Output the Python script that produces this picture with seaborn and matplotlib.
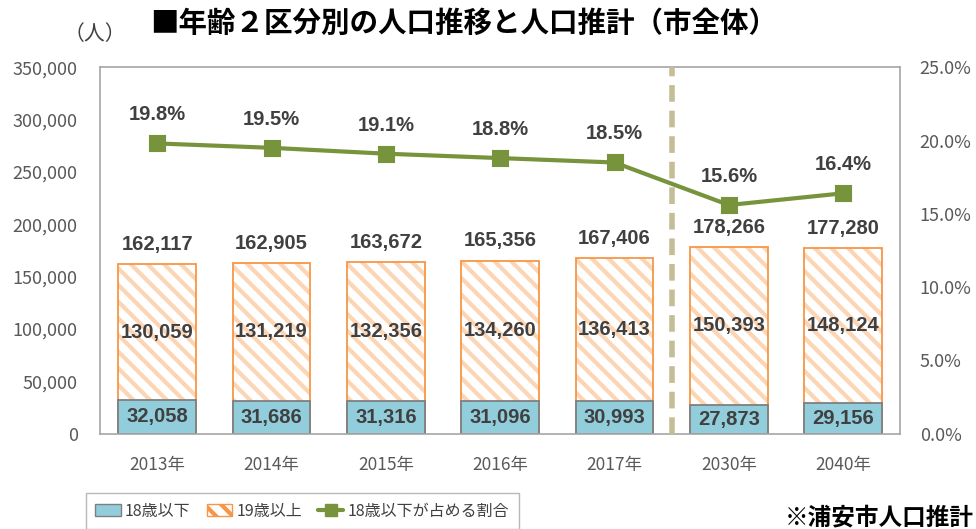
import matplotlib
matplotlib.use("Agg")
import matplotlib.pyplot as plt
import seaborn as sns
from matplotlib.patches import Patch
from matplotlib.lines import Line2D

years = ["2013年", "2014年", "2015年", "2016年", "2017年", "2030年", "2040年"]
under18 = [32058, 31686, 31316, 31096, 30993, 27873, 29156]
over19 = [130059, 131219, 132356, 134260, 136413, 150393, 148124]
total = [162117, 162905, 163672, 165356, 167406, 178266, 177280]
ratio = [19.8, 19.5, 19.1, 18.8, 18.5, 15.6, 16.4]

sns.set_style("white")
plt.rcParams["font.family"] = ["Noto Sans CJK JP", "DejaVu Sans"]
plt.rcParams["hatch.linewidth"] = 3.0

BLUE = "#92cddc"
ORANGE = "#f79646"
ORANGE_L = "#fcd5b4"
GREEN = "#77933c"
TXT = "#404040"
NUM = ["Liberation Sans", "DejaVu Sans"]

fig = plt.figure(figsize=(9.76, 5.29), dpi=100)
ax = fig.add_axes([0.1025, 0.18, 0.82, 0.693])

# hatched total bars (19歳以上 on top of 18歳以下)
sns.barplot(x=years, y=total, ax=ax, color="white", width=0.68,
            edgecolor=ORANGE_L, linewidth=0, hatch="\\\\", saturation=1)
sns.barplot(x=years, y=total, ax=ax, fill=False, width=0.68,
            edgecolor=ORANGE, linewidth=1.3)
sns.barplot(x=years, y=under18, ax=ax, color=BLUE, width=0.68,
            edgecolor="#7f7f7f", linewidth=1.3, saturation=1)

ax.set_ylim(0, 350000)
ax.set_yticks(range(0, 350001, 50000))
ax.set_yticklabels([f"{v:,}" for v in range(0, 350001, 50000)])
ax.set_xlim(-0.5, len(years) - 0.5)
for s in ax.spines.values():
    s.set_color("#a6a6a6")
    s.set_linewidth(1.2)
ax.tick_params(axis="y", labelsize=13, colors="#595959", length=0, pad=16)
ax.tick_params(axis="x", labelsize=12.5, colors="#595959", length=0, pad=16)

for i in range(len(years)):
    ax.text(i, under18[i] / 2, f"{under18[i]:,}", ha="center", va="center",
            fontsize=14.5, fontweight="bold", color=TXT, family=NUM)
    ax.text(i, under18[i] + over19[i] / 2, f"{over19[i]:,}", ha="center",
            va="center", fontsize=14.5, fontweight="bold", color=TXT, family=NUM)
    ax.text(i, total[i] + 10000, f"{total[i]:,}", ha="center",
            va="bottom", fontsize=14.5, fontweight="bold", color=TXT, family=NUM)

# dashed separator between actual and projected
ax.axvline(4.5, color="#c4bd97", linestyle=(0, (3, 1.6)), linewidth=4, zorder=5)

ax2 = ax.twinx()
sns.pointplot(x=years, y=ratio, ax=ax2, color=GREEN, marker="s",
              markersize=10, linewidth=3)
ax2.set_ylim(0, 25)
ax2.set_yticks(range(0, 26, 5))
ax2.set_yticklabels([f"{v:.1f}%" for v in range(0, 26, 5)])
ax2.tick_params(axis="y", labelsize=13, colors="#595959", length=0, pad=14)
for s in ax2.spines.values():
    s.set_visible(False)
ax2.set_xlim(-0.5, len(years) - 0.5)
for i, r in enumerate(ratio):
    ax2.text(i, r + 1.3, f"{r}%", ha="center", va="bottom",
             fontsize=14.5, fontweight="bold", color=TXT, family=NUM)

fig.text(0.097, 0.935, "（人）", fontsize=15, color=TXT, ha="center", va="center")
fig.text(0.475, 0.955, "■年齢２区分別の人口推移と人口推計（市全体）",
         fontsize=20.5, fontweight="bold", color="black", ha="center", va="center")

handles = [
    Patch(facecolor=BLUE, edgecolor="#7f7f7f", label="18歳以下"),
    Patch(facecolor="white", edgecolor=ORANGE, hatch="\\\\", label="19歳以上"),
    Line2D([0], [0], color=GREEN, linewidth=3, marker="s", markersize=8,
           label="18歳以下が占める割合"),
]
leg = fig.legend(handles=handles, ncol=3, loc="upper left",
                 bbox_to_anchor=(0.088, 0.068), frameon=True, fancybox=False,
                 fontsize=11.5, handlelength=1.6, handletextpad=0.25,
                 columnspacing=1.0, borderpad=0.6, borderaxespad=0)
leg.get_frame().set_edgecolor("#a6a6a6")
for t in leg.get_texts():
    t.set_color("#404040")

fig.text(0.998, 0.022, "※浦安市人口推計", fontsize=17, fontweight="bold",
         ha="right", va="center", color="black")

fig.savefig("out.png", dpi=100)
